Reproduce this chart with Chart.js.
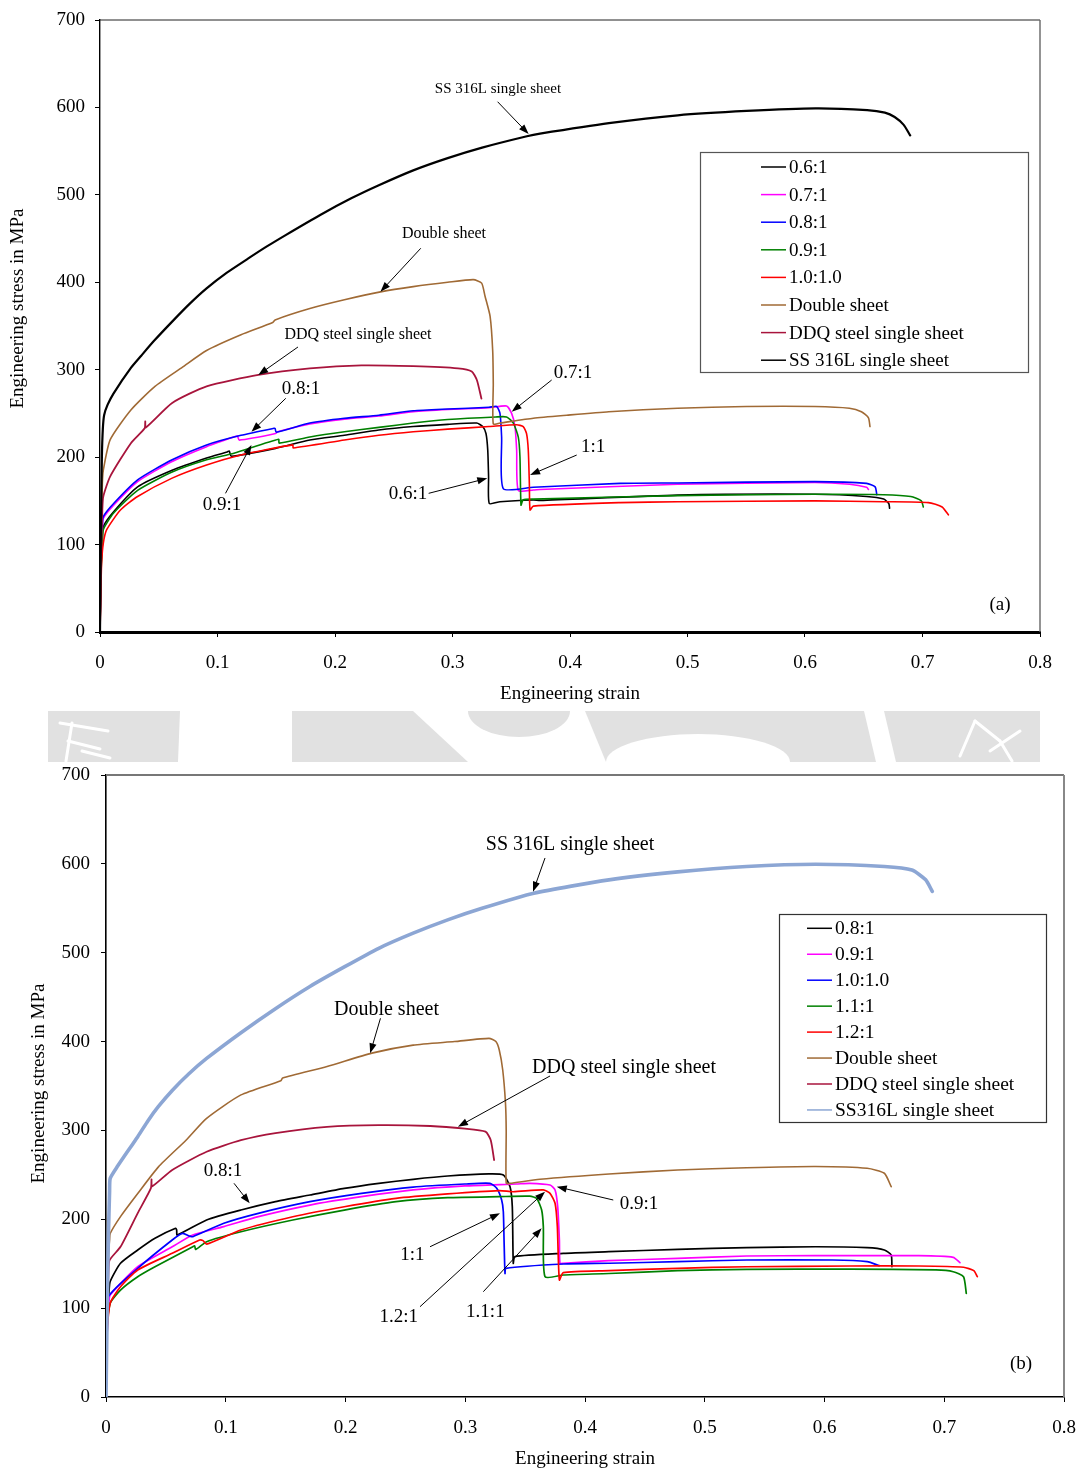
<!DOCTYPE html>
<html>
<head>
<meta charset="utf-8">
<script src="https://cdn.jsdelivr.net/npm/chart.js@4.4.1/dist/chart.umd.min.js"></script>
<style>
  html, body { margin: 0; padding: 0; background: #fff; }
  #wrap { position: relative; width: 1079px; height: 1471px; overflow: hidden; }
  canvas { position: absolute; left: 0; }
  #topChart { top: 0; }
  #band { top: 711px; }
  #botChart { top: 762px; }
</style>
</head>
<body>
<div id="wrap">
  <canvas id="topChart" width="1079" height="710"></canvas>
  <canvas id="band" width="1079" height="51"></canvas>
  <canvas id="botChart" width="1079" height="709"></canvas>
</div>
<script>
// ---------- axis ticks ----------
const xTickLabels = ['0', '0.1', '0.2', '0.3', '0.4', '0.5', '0.6', '0.7', '0.8'];
const yTickLabels = ['0', '100', '200', '300', '400', '500', '600', '700'];

// ---------- panel (a): [engineering strain, engineering stress MPa] ----------
const ratio06A = [[0,0],[0.0008,70],[0.0020,105],[0.0028,120.5],[0.0116,137.6],[0.0320,166],[0.0614,185],[0.0907,199],[0.1083,206],[0.1100,207],[0.1118,201],[0.1494,210],[0.1786,219.6],[0.2080,225],[0.2373,231],[0.2666,235],[0.2959,237.5],[0.3206,239],[0.3257,235],[0.3285,227],[0.3300,208],[0.3307,178],[0.3313,147],[0.3404,149],[0.3688,151],[0.3745,150.5],[0.4915,156.5],[0.6085,157.5],[0.6524,155],[0.6670,152],[0.6713,147],[0.6720,141.5]];
const ratio07A = [[0,0],[0.0008,80],[0.0020,118],[0.0028,130],[0.0116,145],[0.0320,172],[0.0614,195],[0.0907,212],[0.1150,223.5],[0.1170,224],[0.1185,219.5],[0.1494,227],[0.1510,229],[0.1786,238],[0.2080,243.5],[0.2373,247],[0.2666,252],[0.2959,254.5],[0.3311,256.5],[0.3460,258.5],[0.3503,250],[0.3532,235],[0.3546,208],[0.3560,162],[0.3688,162.5],[0.3745,163],[0.4915,169],[0.6085,171],[0.6380,169],[0.6524,165.5],[0.6540,163]];
const ratio08A = [[0,0],[0.0008,85],[0.0020,122],[0.0028,132],[0.0116,147],[0.0320,174],[0.0614,197],[0.0907,214],[0.1200,225],[0.1480,233],[0.1490,233],[0.1500,228.5],[0.1786,239],[0.2080,244.5],[0.2373,248],[0.2666,253],[0.2959,255],[0.3311,257],[0.3376,258],[0.3404,250],[0.3418,223],[0.3432,164],[0.3688,165.5],[0.4426,170],[0.4915,170.5],[0.6085,172],[0.6524,170],[0.6597,166],[0.6611,157]];
const ratio09A = [[0,0],[0.0008,65],[0.0020,100],[0.0028,117],[0.0116,136],[0.0320,162],[0.0614,183],[0.0907,197],[0.1140,204.5],[0.1520,220.5],[0.1525,216],[0.1786,223],[0.2080,229],[0.2373,234],[0.2666,239],[0.2959,243],[0.3368,246],[0.3460,246],[0.3518,239],[0.3560,223],[0.3574,200.5],[0.3583,145],[0.3600,151],[0.3688,152],[0.4915,156],[0.6085,157.5],[0.6669,157],[0.6900,155],[0.6990,150],[0.7007,143]];
const ratio10A = [[0,0],[0.0008,52],[0.0014,80],[0.0028,101.5],[0.0057,117],[0.0174,139.5],[0.0320,155],[0.0614,176],[0.0907,191],[0.1200,202.5],[0.1640,214],[0.1645,210.5],[0.2080,219.6],[0.2373,225],[0.2666,229],[0.2959,232],[0.3311,235],[0.3546,237],[0.3602,235],[0.3630,227],[0.3645,208],[0.3654,170],[0.3660,139.5],[0.3688,144],[0.4426,148],[0.4915,149],[0.6085,150],[0.6670,149],[0.7050,148],[0.7167,143],[0.7220,134]];
const doubleA = [[0,0],[0.0010,110],[0.0020,170],[0.0028,185],[0.0087,220],[0.0263,254],[0.0468,281],[0.0702,303],[0.0907,322],[0.1200,340],[0.1470,354],[0.1490,357],[0.1786,370],[0.2080,380],[0.2387,389],[0.2666,395],[0.2959,400],[0.3177,403],[0.3248,399],[0.3277,384],[0.3320,361],[0.3342,322],[0.3347,284],[0.3347,238],[0.3404,239],[0.3688,244.5],[0.3972,248],[0.4330,252],[0.4915,256],[0.5500,258],[0.6085,258],[0.6378,256],[0.6480,252],[0.6540,245],[0.6553,235]];
const ddqA = [[0,0],[0.0010,90],[0.0020,140],[0.0028,155],[0.0087,178],[0.0263,216],[0.0380,233],[0.0385,241],[0.0390,234],[0.0614,262],[0.0907,281],[0.1347,294],[0.1786,301.5],[0.2225,305],[0.2666,304],[0.3047,301.5],[0.3164,298],[0.3208,288],[0.3246,267]];
const ss316A = [[0,0],[0.0008,120],[0.0016,200],[0.0024,232],[0.0035,248],[0.0065,260],[0.0116,273],[0.0263,302],[0.0351,316],[0.0460,333],[0.0614,355],[0.0760,375],[0.0907,393],[0.1080,411],[0.1259,427],[0.1420,441],[0.1580,454],[0.1874,477],[0.2138,496],[0.2373,511],[0.2666,528],[0.2959,542],[0.3252,554],[0.3633,567],[0.3745,570],[0.4331,582],[0.4917,591],[0.5503,596],[0.6089,599],[0.6529,597],[0.6680,594],[0.6763,589],[0.6840,580],[0.6895,568]];

// ---------- panel (b) ----------
const ratio08B = [[0,0],[0.0010,80],[0.0025,118],[0.0035,130],[0.0121,150.5],[0.0265,165.4],[0.0409,178.6],[0.0581,189.9],[0.0590,188],[0.0595,182.3],[0.0840,199.2],[0.1127,210.4],[0.1415,219.8],[0.1703,227.3],[0.1990,234.8],[0.2278,240.5],[0.2565,245],[0.2853,248.7],[0.3198,251],[0.3318,249.8],[0.3374,236.7],[0.3393,214],[0.3401,150.5],[0.3415,158],[0.3819,161.7],[0.4200,163.5],[0.4774,166.2],[0.5350,168],[0.5925,169.1],[0.6356,168],[0.6500,165.4],[0.6557,159.8],[0.6563,146.6]];
const ratio09B = [[0,0],[0.0010,75],[0.0025,108],[0.0035,114.8],[0.0265,146.6],[0.0553,169],[0.0725,182.3],[0.0984,191.7],[0.1272,203],[0.1703,216],[0.2134,225.4],[0.2565,233],[0.2997,237.5],[0.3428,239.7],[0.3540,240.5],[0.3708,238.6],[0.3750,233],[0.3772,214],[0.3786,176.7],[0.3791,150.5],[0.3819,150.5],[0.4200,153.4],[0.4774,156],[0.5350,158.7],[0.5925,159],[0.6787,159],[0.7075,157.2],[0.7131,151.2]];
const ratio10B = [[0,0],[0.0010,75],[0.0020,112.9],[0.0265,144.8],[0.0553,176.7],[0.0639,184.2],[0.0700,181],[0.0725,180.4],[0.0984,195.5],[0.1272,206.7],[0.1703,219.8],[0.2134,229.2],[0.2565,236.3],[0.2997,239.7],[0.3207,240.5],[0.3263,234.9],[0.3304,221.7],[0.3318,208.5],[0.3324,176.7],[0.3332,139],[0.3340,144.8],[0.3819,149.7],[0.4200,150.5],[0.4774,152.3],[0.5350,154.2],[0.6068,154.2],[0.6356,152.3],[0.6457,147.8]];
const ratio11B = [[0,0],[0.0006,71.7],[0.0035,105.5],[0.0121,120.4],[0.0265,135.4],[0.0409,146.6],[0.0725,169.1],[0.0740,170],[0.0750,166],[0.0840,174.8],[0.1127,186],[0.1560,199.2],[0.1990,210.4],[0.2422,219.8],[0.2853,224.3],[0.3284,225.5],[0.3540,226],[0.3597,223.5],[0.3638,210.4],[0.3652,191.7],[0.3666,135.4],[0.3819,137.3],[0.4200,139],[0.4774,142.2],[0.5350,143.7],[0.6212,144],[0.6931,143],[0.7075,141],[0.7161,135.4],[0.7184,116.7]];
const ratio12B = [[0,0],[0.0006,64],[0.0035,105.5],[0.0121,124],[0.0265,143],[0.0553,161.7],[0.0782,176.7],[0.0810,176],[0.0840,172],[0.1127,187.9],[0.1560,202.9],[0.1990,214.1],[0.2422,223.5],[0.2853,228.5],[0.3284,232.2],[0.3401,231],[0.3652,233],[0.3708,229.2],[0.3750,218],[0.3769,191.7],[0.3786,131.7],[0.3819,140],[0.4200,142.2],[0.4774,144.8],[0.5350,146.6],[0.6212,147.4],[0.6787,147.4],[0.7161,146],[0.7247,142.2],[0.7276,135.4]];
const doubleB = [[0,0],[0.0010,100],[0.0020,160],[0.0030,177],[0.0035,184],[0.0121,203],[0.0265,229],[0.0438,259],[0.0668,289],[0.0840,313.6],[0.1127,340],[0.1460,356],[0.1475,359],[0.1846,372],[0.2220,387],[0.2565,396],[0.2910,400],[0.3198,403.6],[0.3256,400],[0.3284,390.5],[0.3313,368],[0.3336,330.5],[0.3342,300],[0.3342,240.5],[0.3374,240.5],[0.3624,245],[0.4200,251],[0.4774,255.5],[0.5350,258],[0.5925,259.4],[0.6356,257.4],[0.6500,251.8],[0.6557,236.7]];
const ddqB = [[0,0],[0.0010,90],[0.0020,140],[0.0030,154],[0.0121,169],[0.0265,207],[0.0375,235],[0.0380,245],[0.0385,237],[0.0553,255.5],[0.0840,276],[0.1127,289],[0.1415,297],[0.1846,304],[0.2278,306],[0.2709,305],[0.2997,302],[0.3169,298.6],[0.3213,289],[0.3241,266.7]];
const ss316B = [[0,0],[0.0010,100],[0.0020,180],[0.0030,232],[0.0035,246],[0.0093,259],[0.0265,293],[0.0351,311],[0.0438,327],[0.0553,345],[0.0690,363.5],[0.0840,381],[0.1127,410],[0.1415,437],[0.1703,462],[0.1990,484],[0.2278,505],[0.2565,522],[0.2853,537],[0.3140,550],[0.3572,567],[0.4200,582],[0.4774,591],[0.5350,597],[0.5925,599.5],[0.6500,597],[0.6730,593],[0.6845,582],[0.6900,569]];

// ---------- series lists ----------
const seriesA = [
  { label: '0.6:1', points: ratio06A, color: '#000000', width: 1.6 },
  { label: '0.7:1', points: ratio07A, color: '#ff00ff', width: 1.6 },
  { label: '0.8:1', points: ratio08A, color: '#0000ff', width: 1.6 },
  { label: '0.9:1', points: ratio09A, color: '#008000', width: 1.6 },
  { label: '1.0:1.0', points: ratio10A, color: '#ff0000', width: 1.6 },
  { label: 'Double sheet', points: doubleA, color: '#a06a35', width: 1.6 },
  { label: 'DDQ steel single sheet', points: ddqA, color: '#a8143c', width: 1.8 },
  { label: 'SS 316L single sheet', points: ss316A, color: '#000000', width: 2.2 }
];
const seriesB = [
  { label: '0.8:1', points: ratio08B, color: '#000000', width: 1.7 },
  { label: '0.9:1', points: ratio09B, color: '#ff00ff', width: 1.7 },
  { label: '1.0:1.0', points: ratio10B, color: '#0000ff', width: 1.7 },
  { label: '1.1:1', points: ratio11B, color: '#008000', width: 1.7 },
  { label: '1.2:1', points: ratio12B, color: '#ff0000', width: 1.7 },
  { label: 'Double sheet', points: doubleB, color: '#a06a35', width: 1.6 },
  { label: 'DDQ steel single sheet', points: ddqB, color: '#a8143c', width: 1.8 },
  { label: 'SS316L single sheet', points: ss316B, color: '#8ca6d4', width: 3.6 }
];

// ---------- callouts (text centre, arrow tail, arrow tip in data units) ----------
const notesA = [
  { text: 'SS 316L single sheet', at: [0.3387, 621], size: 15, tail: [0.3384, 606.5], tip: [0.3648, 569.5] },
  { text: 'Double sheet', at: [0.2928, 455.2], size: 16, tail: [0.2730, 438.9], tip: [0.2387, 389.2] },
  { text: 'DDQ steel single sheet', at: [0.2196, 339.7], size: 16, tail: [0.1685, 326], tip: [0.1347, 294] },
  { text: '0.8:1', at: [0.1711, 278], size: 19, tail: [0.1581, 267.3], tip: [0.1289, 229] },
  { text: '0.9:1', at: [0.1038, 145.3], size: 19, tail: [0.1068, 158.6], tip: [0.1289, 213.9] },
  { text: '0.6:1', at: [0.2621, 157.8], size: 19, tail: [0.2797, 158.6], tip: [0.3296, 175.8] },
  { text: '0.7:1', at: [0.4026, 296.2], size: 19, tail: [0.3844, 288.2], tip: [0.3504, 252] },
  { text: '1:1', at: [0.4196, 211.6], size: 19, tail: [0.4057, 202.4], tip: [0.3660, 179.6] },
  { text: '(a)', at: [0.7660, 30.9], size: 19 }
];
const notesB = [
  { text: 'SS 316L single sheet', at: [0.3875, 621.2], size: 20, tail: [0.3666, 606.6], tip: [0.3566, 568.7] },
  { text: 'Double sheet', at: [0.2342, 435.5], size: 20, tail: [0.2292, 426.2], tip: [0.2206, 386.8] },
  { text: 'DDQ steel single sheet', at: [0.4326, 370.3], size: 20, tail: [0.3708, 361.3], tip: [0.2939, 304.2] },
  { text: '0.8:1', at: [0.0977, 254.3], size: 19, tail: [0.1069, 240.5], tip: [0.1200, 218] },
  { text: '1:1', at: [0.2559, 159.8], size: 19, tail: [0.2706, 169.1], tip: [0.3290, 206.7] },
  { text: '1.2:1', at: [0.2444, 90.4], size: 19, tail: [0.2622, 101.6], tip: [0.3666, 231] },
  { text: '1.1:1', at: [0.3168, 96], size: 19, tail: [0.3151, 118.5], tip: [0.3638, 189.9] },
  { text: '0.9:1', at: [0.4451, 217.2], size: 19, tail: [0.4236, 221.7], tip: [0.3764, 236.7] },
  { text: '(b)', at: [0.7641, 37.1], size: 19 }
];

// ---------- layout of each panel (canvas pixels) ----------
const SERIF = '"Liberation Serif", "Times New Roman", serif';
const panelA = {
  area: { left: 100, right: 1040, top: 20, bottom: 632 },
  xAxisWidth: 3, yAxisWidth: 1.4, yTickPad: 10, xTitlePad: 4.6,
  topEdge: { color: '#222', width: 1 }, rightEdge: { color: '#666', width: 1.4 },
  yTitle: { text: 'Engineering stress in MPa', x: 18, y: 308.5 },
  legend: { x: 700, y: 152, w: 328, h: 220, line1: 761, line2: 786, textX: 789, row0: 167, step: 27.6, size: 19, border: '#555' }
};
const panelB = {
  area: { left: 106, right: 1064, top: 13, bottom: 635 },
  xAxisWidth: 1.6, yAxisWidth: 1.6, yTickPad: 11, xTitlePad: 0.6,
  topEdge: { color: '#777', width: 2 }, rightEdge: { color: '#888', width: 2 },
  yTitle: { text: 'Engineering stress in MPa', x: 39, y: 321.5 },
  legend: { x: 779, y: 152, w: 267, h: 208, line1: 807, line2: 832, textX: 835, row0: 166.3, step: 25.95, size: 19.5, border: '#333' }
};

function arrow(ctx, x1, y1, x2, y2) {
  const ang = Math.atan2(y2 - y1, x2 - x1);
  const L = 10, Wd = 3.6;
  ctx.beginPath();
  ctx.moveTo(x1, y1);
  ctx.lineTo(x2 - Math.cos(ang) * (L - 2), y2 - Math.sin(ang) * (L - 2));
  ctx.stroke();
  ctx.beginPath();
  ctx.moveTo(x2, y2);
  ctx.lineTo(x2 - Math.cos(ang) * L + Math.sin(ang) * Wd, y2 - Math.sin(ang) * L - Math.cos(ang) * Wd);
  ctx.lineTo(x2 - Math.cos(ang) * L - Math.sin(ang) * Wd, y2 - Math.sin(ang) * L + Math.cos(ang) * Wd);
  ctx.closePath();
  ctx.fill();
}

function makePanel(canvasId, series, notes, panel) {
  const canvas = document.getElementById(canvasId);
  const W = canvas.width, H = canvas.height;
  const a = panel.area;
  const font = { family: SERIF, size: 19 };

  const decor = {
    id: 'decor_' + canvasId,
    beforeDatasetsDraw(chart) {
      const c = chart.ctx, ca = chart.chartArea;
      c.save();
      c.strokeStyle = panel.topEdge.color; c.lineWidth = panel.topEdge.width;
      c.beginPath(); c.moveTo(ca.left, ca.top); c.lineTo(ca.right, ca.top); c.stroke();
      c.strokeStyle = panel.rightEdge.color; c.lineWidth = panel.rightEdge.width;
      c.beginPath(); c.moveTo(ca.right, ca.top); c.lineTo(ca.right, ca.bottom); c.stroke();
      c.restore();
    },
    afterDraw(chart) {
      const c = chart.ctx, xs = chart.scales.x, ys = chart.scales.y;
      c.save();
      // callouts
      c.fillStyle = '#000'; c.strokeStyle = '#000'; c.lineWidth = 1;
      c.textAlign = 'center'; c.textBaseline = 'middle';
      notes.forEach(n => {
        c.font = n.size + 'px ' + SERIF;
        c.fillText(n.text, xs.getPixelForValue(n.at[0]), ys.getPixelForValue(n.at[1]));
        if (n.tip) {
          arrow(c, xs.getPixelForValue(n.tail[0]), ys.getPixelForValue(n.tail[1]),
                   xs.getPixelForValue(n.tip[0]), ys.getPixelForValue(n.tip[1]));
        }
      });
      // legend box
      const lg = panel.legend;
      c.fillStyle = '#fff';
      c.fillRect(lg.x, lg.y, lg.w, lg.h);
      c.strokeStyle = lg.border; c.lineWidth = 1.2;
      c.strokeRect(lg.x + 0.5, lg.y + 0.5, lg.w, lg.h);
      c.font = lg.size + 'px ' + SERIF;
      c.textAlign = 'left'; c.textBaseline = 'middle';
      chart.data.datasets.forEach((ds, i) => {
        const y = lg.row0 + i * lg.step;
        c.strokeStyle = ds.borderColor; c.lineWidth = 1.5;
        c.beginPath(); c.moveTo(lg.line1, y); c.lineTo(lg.line2, y); c.stroke();
        c.fillStyle = '#000';
        c.fillText(ds.label, lg.textX, y + 1);
      });
      // vertical axis title
      c.font = '19px ' + SERIF;
      c.textAlign = 'center'; c.textBaseline = 'middle';
      c.translate(panel.yTitle.x, panel.yTitle.y);
      c.rotate(-Math.PI / 2);
      c.fillText(panel.yTitle.text, 0, 0);
      c.restore();
    }
  };

  return new Chart(canvas, {
    type: 'scatter',
    data: {
      datasets: series.map((s, i) => ({
        label: s.label,
        data: s.points.map(([x, y]) => ({ x, y })),
        showLine: true,
        borderColor: s.color,
        backgroundColor: s.color,
        borderWidth: s.width,
        borderJoinStyle: 'round',
        borderCapStyle: 'round',
        pointRadius: 0,
        pointHoverRadius: 0,
        tension: 0.2,
        order: series.length - i
      }))
    },
    options: {
      responsive: false,
      devicePixelRatio: 1,
      animation: false,
      layout: { padding: { left: 0, top: a.top, right: W - a.right, bottom: 0 } },
      plugins: { legend: { display: false }, tooltip: { enabled: false } },
      scales: {
        x: {
          type: 'linear', min: 0, max: 0.8,
          afterFit: s => { s.height = H - a.bottom; s.paddingLeft = 0; s.paddingRight = 0; },
          ticks: { stepSize: 0.1, callback: (v, i) => xTickLabels[i], font, color: '#000', padding: 15, maxRotation: 0, autoSkip: false },
          grid: { drawOnChartArea: false, drawTicks: true, tickLength: 5, color: '#000', lineWidth: 1 },
          border: { display: true, color: '#000', width: panel.xAxisWidth },
          title: { display: true, text: 'Engineering strain', font, color: '#000', padding: { top: 0, bottom: panel.xTitlePad } }
        },
        y: {
          type: 'linear', min: 0, max: 700,
          afterFit: s => { s.width = a.left; s.paddingTop = 0; s.paddingBottom = 0; },
          ticks: { stepSize: 100, callback: (v, i) => yTickLabels[i], font, color: '#000', padding: panel.yTickPad },
          grid: { drawOnChartArea: false, drawTicks: true, tickLength: 5, color: '#000', lineWidth: 1 },
          border: { display: true, color: '#000', width: panel.yAxisWidth },
          title: { display: false }
        }
      }
    },
    plugins: [decor]
  });
}

// faint grey strip between the two panels
function drawBand() {
  const c = document.getElementById('band').getContext('2d');
  const grey = '#e1e1e1';
  const poly = pts => { c.beginPath(); pts.forEach(([x, y], i) => i ? c.lineTo(x, y) : c.moveTo(x, y)); c.closePath(); c.fill(); };
  c.fillStyle = grey;
  c.fillRect(48, 0, 992, 51);
  c.fillStyle = '#fff';
  poly([[180, 0], [292, 0], [292, 51], [178, 51]]);
  poly([[413, 0], [585, 0], [606, 51], [468, 51]]);
  c.beginPath(); c.ellipse(698, 51, 92, 28, 0, Math.PI, 2 * Math.PI); c.fill();
  poly([[864, 0], [884, 0], [896, 51], [876, 51]]);
  c.fillStyle = grey;
  c.beginPath(); c.ellipse(519, 0, 51, 26, 0, 0, Math.PI); c.fill();
  c.strokeStyle = '#fff'; c.lineWidth = 3; c.lineCap = 'round';
  [[[60, 12], [108, 20]], [[72, 12], [66, 50]], [[68, 30], [100, 38]], [[82, 40], [110, 47]],
   [[960, 45], [975, 10]], [[975, 10], [1000, 30]], [[1000, 30], [1012, 50]], [[990, 40], [1020, 20]]]
    .forEach(([p, q]) => { c.beginPath(); c.moveTo(p[0], p[1]); c.lineTo(q[0], q[1]); c.stroke(); });
}

makePanel('topChart', seriesA, notesA, panelA);
makePanel('botChart', seriesB, notesB, panelB);
drawBand();
</script>
</body>
</html>
